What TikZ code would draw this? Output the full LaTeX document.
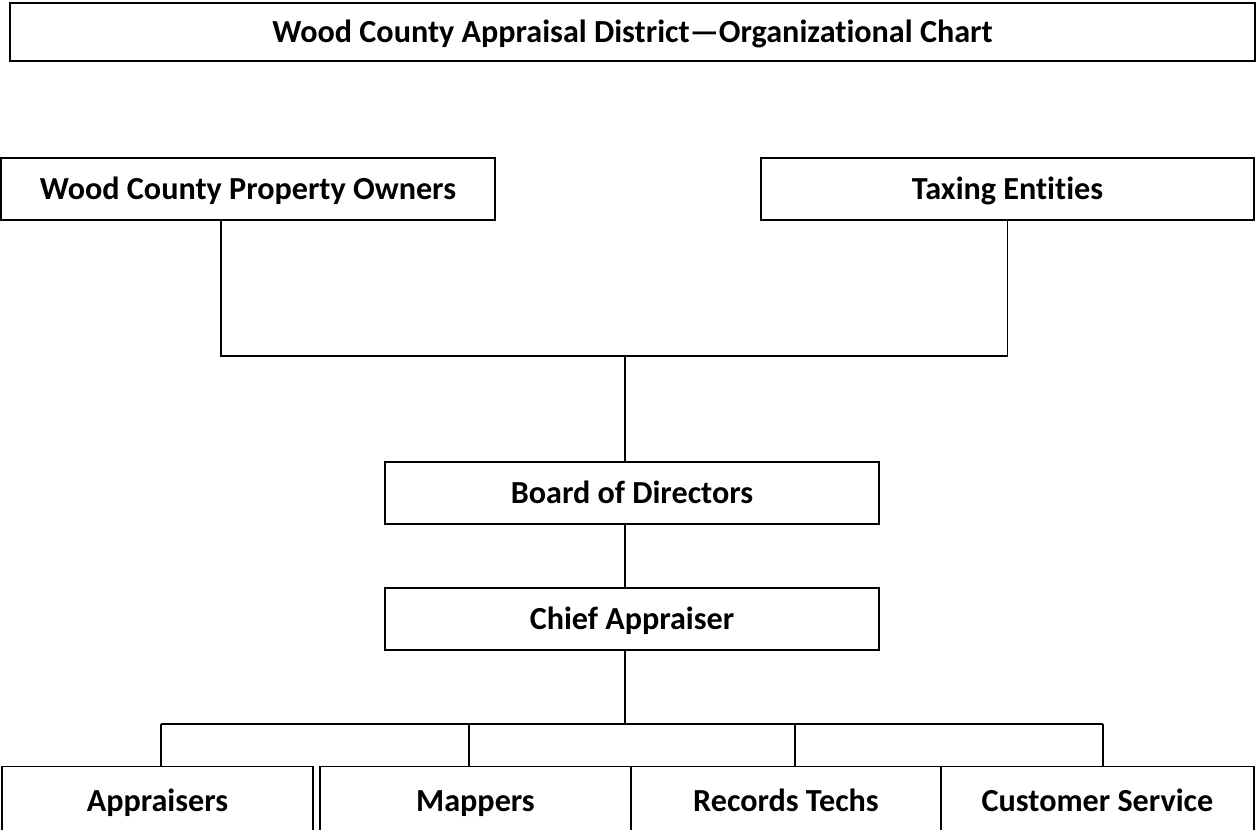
\documentclass[tikz,border=0pt]{standalone}
\usepackage{fontspec}
\setmainfont{Carlito}[Ligatures={NoCommon}]
\usetikzlibrary{positioning}

\begin{document}
\begin{tikzpicture}[
    x=0.02cm, y=-0.02cm,
    box/.style={rectangle, draw, line width=1.1pt, inner sep=0pt, minimum height=1.24cm, align=center, text height=15pt, text depth=3.4pt, font=\fontsize{18.3}{21}\selectfont\bfseries},
    link/.style={line width=1.1pt}
]
    \useasboundingbox (0,0) rectangle (1256,829);
    \clip (0,0) rectangle (1256,829);

    % title
    \node[box, minimum width=24.9cm, minimum height=1.16cm] (title) at (632.5,32) {Wood County Appraisal District---Organizational Chart};

    % top row
    \node[box, minimum width=9.88cm] (owners) at (248,189) {Wood County Property Owners};
    \node[box, minimum width=9.86cm] (taxing) at (1007.5,189) {Taxing Entities};

    % board and chief
    \node[box, minimum width=9.88cm] (board) at (632,493) {Board of Directors};
    \node[box, minimum width=9.88cm, below=1.24cm of board] (chief) {Chief Appraiser};

    % staff row, cut off at the lower edge
    \tikzset{staff/.style={box, minimum height=1.38cm}}
    \node[staff, minimum width=6.22cm] (appr) at (157.5,801) {Appraisers};
    \node[staff, minimum width=6.22cm] (map) at (475.5,801) {Mappers};
    \node[staff, minimum width=6.2cm] (rec) at (786,801) {Records Techs};
    \node[staff, minimum width=6.26cm] (cust) at (1097.5,801) {Customer Service};

    \coordinate (join) at (625,356);
    \coordinate (split) at (625,724);

    \draw[link] (owners.south -| 221,0) |- (join) -| (taxing.south);
    \draw[link] (join) -- (board.north -| join);
    \draw[link] (board.south -| join) -- (chief.north -| join);
    \draw[link] (chief.south -| split) -- (split);
    \draw[link] (161,724) -- (1103,724);
    \foreach \x/\n in {161/appr, 469/map, 795/rec, 1103/cust}
        \draw[link] (\x,724) -- (\n.north -| \x,0);
\end{tikzpicture}
\end{document}
